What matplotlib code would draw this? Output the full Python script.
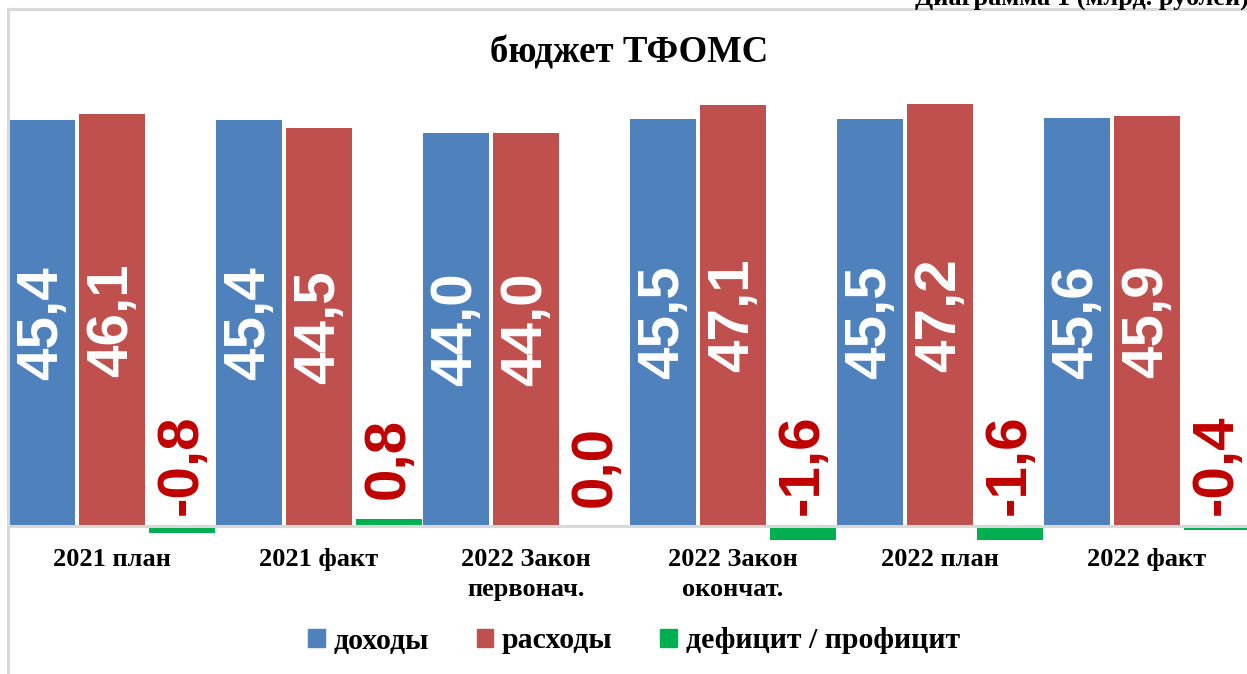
import numpy as np
import matplotlib
matplotlib.use('Agg')
import matplotlib.pyplot as plt
from matplotlib.patches import Patch
from matplotlib.lines import Line2D

# ----------------------------------------------------------------
#  DATA (млрд. рублей)
# ----------------------------------------------------------------
categories = ['2021 план', '2021 факт', '2022 Закон\nпервонач.',
              '2022 Закон\nокончат.', '2022 план', '2022 факт']
dokhody  = [45.4, 45.4, 44.0, 45.5, 45.5, 45.6]
raskhody = [46.1, 44.5, 44.0, 47.1, 47.2, 45.9]
deficit  = [-0.8, 0.8, 0.0, -1.6, -1.6, -0.4]
series_names = ['доходы', 'расходы', 'дефицит / профицит']

C_BLUE  = '#4f81bd'
C_RED   = '#c0504d'
C_GREEN = '#00b050'
C_LABEL = '#c00000'
C_GRID  = '#d9d9d9'

SERIF = ['Liberation Serif', 'DejaVu Serif']
SANS  = ['Liberation Sans', 'DejaVu Sans']

def fmt(v):
    return f'{v:.1f}'.replace('.', ',')

# ----------------------------------------------------------------
#  FIGURE
# ----------------------------------------------------------------
W, H = 1247, 674
fig = plt.figure(figsize=(W / 100, H / 100), dpi=100)

# chart frame (cropped screenshot: only left and top edges visible)
fig.add_artist(Line2D([8 / W, 8 / W], [0, 1 - 9 / H], color=C_GRID, lw=2.2))
fig.add_artist(Line2D([8 / W, 1.0], [1 - 9 / H, 1 - 9 / H], color=C_GRID, lw=2.2))

# clipped caption at top right
fig.text(915 / W, 1 - 5 / H, 'Диаграмма 1 (млрд. рублей)', ha='left',
         va='baseline', fontsize=19, fontweight='bold', family=SERIF)

y_lo, y_hi = -2.0, 50.0
px_per_unit = 8.94
zero_px = 526
ax_bottom = zero_px - y_lo * px_per_unit
ax_top = zero_px - y_hi * px_per_unit
ax = fig.add_axes([8.5 / W, 1 - ax_bottom / H, 1242 / W, (ax_bottom - ax_top) / H])
ax.set_xlim(-0.5, 5.5)
ax.set_ylim(y_lo, y_hi)

x = np.arange(len(categories))
step, bw = 0.338, 0.319

ax.bar(x - step, dokhody, bw, color=C_BLUE, zorder=2)
ax.bar(x, raskhody, bw, color=C_RED, zorder=2)
ax.bar(x + step, deficit, bw, color=C_GREEN, zorder=2)

ax.axhline(0, color=C_GRID, lw=2.2, zorder=3)

for xs, vals in ((x - step, dokhody), (x, raskhody)):
    for xi, v in zip(xs, vals):
        ax.text(xi, v / 2, fmt(v), rotation=90, ha='center', va='center',
                color='white', fontsize=42, fontweight='bold', family=SANS, zorder=4)
for xi, v in zip(x + step, deficit):
    off = 8 if v < 0 else 14
    ax.annotate(fmt(v), (xi, max(v, 0)), xytext=(0, off), textcoords='offset points',
                rotation=90, ha='center', va='bottom', color=C_LABEL,
                fontsize=42, fontweight='bold', family=SANS, zorder=4)

ax.set_xticks(x)
ax.set_xticklabels(categories, fontsize=19, fontweight='bold', family=SERIF,
                   linespacing=1.4)
ax.tick_params(axis='x', length=0, pad=3)
ax.set_yticks([])
for s in ax.spines.values():
    s.set_visible(False)

fig.text(629 / W, 1 - 53 / H, 'бюджет ТФОМС', ha='center', va='center',
         fontsize=26.5, fontweight='bold', family=SERIF)

handles = [Patch(color=C_BLUE), Patch(color=C_RED), Patch(color=C_GREEN)]
fig.legend(handles, series_names, loc='center', ncol=3, frameon=False,
           bbox_to_anchor=(634 / W, 1 - 641 / H),
           prop={'family': SERIF, 'weight': 'bold', 'size': 21.5},
           handlelength=0.55, handleheight=0.55, handletextpad=0.3,
           columnspacing=1.6)

plt.savefig('out.png', dpi=100)
